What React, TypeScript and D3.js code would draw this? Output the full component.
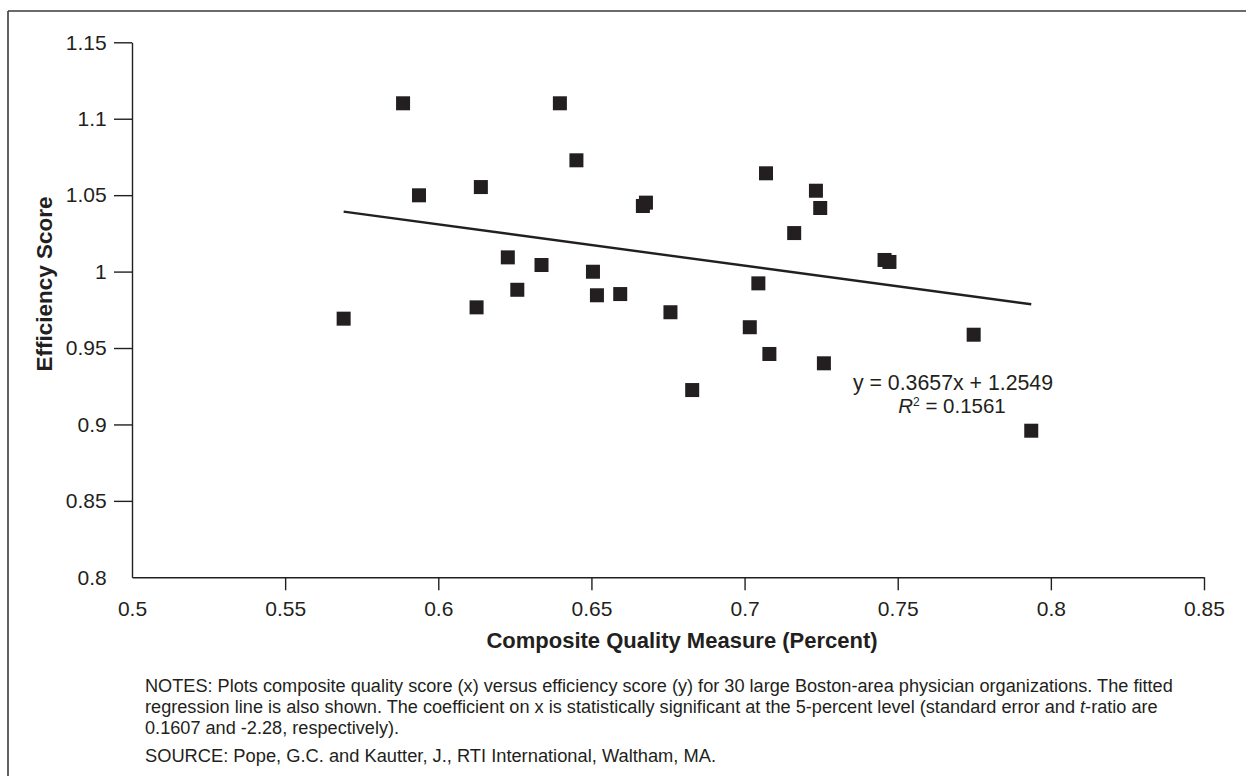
import React, { useEffect, useRef } from "react";
import * as d3 from "d3";

const qualityX = [
  0.5691, 0.5885, 0.5937, 0.6125, 0.6139, 0.6227, 0.6258, 0.6337, 0.6397, 0.6451,
  0.6505, 0.6518, 0.6594, 0.6668, 0.6678, 0.6758, 0.6829, 0.7017, 0.7045, 0.707,
  0.7081, 0.7162, 0.7233, 0.7247, 0.7259, 0.7457, 0.7473, 0.7748, 0.7936,
];
const efficiencyY = [
  0.9692, 1.1101, 1.0499, 0.9766, 1.0553, 1.0093, 0.9881, 1.0043, 1.1101, 1.0728,
  0.9999, 0.9845, 0.9853, 1.0429, 1.0451, 0.9734, 0.9225, 0.9636, 0.9923, 1.0643,
  0.9461, 1.0252, 1.0529, 1.0416, 0.94, 1.0076, 1.0063, 0.9587, 0.8959,
];
const fitX = [0.5691, 0.7936];
const fitY = [1.0392, 0.9786];
const xTicks = [0.5, 0.55, 0.6, 0.65, 0.7, 0.75, 0.8, 0.85];
const yTicks = [0.8, 0.85, 0.9, 0.95, 1, 1.05, 1.1, 1.15];
const xTitle = "Composite Quality Measure (Percent)";
const yTitle = "Efficiency Score";
const equationText = "y = 0.3657x + 1.2549";
const rSquaredText = "0.1561";
const notesLines = [
  "NOTES: Plots composite quality score (x) versus efficiency score (y) for 30 large Boston-area physician organizations. The fitted",
  "regression line is also shown. The coefficient on x is statistically significant at the 5-percent level (standard error and |t|-ratio are",
  "0.1607 and -2.28, respectively).",
];
const sourceText = "SOURCE: Pope, G.C. and Kautter, J., RTI International, Waltham, MA.";

const INK = "#231f20";
const FONT = "'Liberation Sans', Arial, Helvetica, sans-serif";

export default function App() {
  const ref = useRef<SVGSVGElement | null>(null);

  useEffect(() => {
    const svg = d3.select(ref.current);
    svg.selectAll("*").remove();

    const x = d3.scaleLinear().domain([0.5, 0.85]).range([132, 1204]);
    const y = d3.scaleLinear().domain([0.8, 1.15]).range([577.3, 42.3]);

    // frame
    svg.append("line").attr("x1", 8).attr("x2", 1246).attr("y1", 11).attr("y2", 11)
      .attr("stroke", "#3a3a3a").attr("stroke-width", 1.6);
    svg.append("line").attr("x1", 8).attr("x2", 8).attr("y1", 11).attr("y2", 776)
      .attr("stroke", "#3a3a3a").attr("stroke-width", 1.6);

    // x axis
    const gx = svg.append("g").attr("transform", `translate(0,${y(0.8)})`)
      .call(d3.axisBottom(x).tickValues(xTicks).tickSize(13).tickSizeOuter(0).tickPadding(10.3)
        .tickFormat((d) => d3.format("")(+d)));
    gx.select(".domain").attr("stroke", INK).attr("stroke-width", 1.4);
    gx.selectAll(".tick line").attr("stroke", INK).attr("stroke-width", 1.4);
    gx.selectAll(".tick").filter((d: any) => d === 0.5).select("line").remove();
    gx.selectAll(".tick text").attr("font-size", 21).attr("font-family", FONT).attr("fill", INK);

    // y axis
    const gy = svg.append("g").attr("transform", `translate(${x(0.5)},0)`)
      .call(d3.axisLeft(y).tickValues(yTicks).tickSize(18).tickSizeOuter(0).tickPadding(7.3)
        .tickFormat((d) => d3.format("")(+d)));
    gy.select(".domain").attr("stroke", INK).attr("stroke-width", 1.4);
    gy.selectAll(".tick line").attr("stroke", INK).attr("stroke-width", 1.4);
    gy.selectAll(".tick").filter((d: any) => d === 0.8).select("line").remove();
    gy.selectAll(".tick text").attr("font-size", 21).attr("font-family", FONT).attr("fill", INK);

    // axis titles
    svg.append("text").attr("x", 682).attr("y", 648).attr("text-anchor", "middle")
      .attr("font-size", 22).attr("font-weight", "bold").attr("font-family", FONT).attr("fill", INK)
      .text(xTitle);
    svg.append("text").attr("transform", `translate(52,284) rotate(-90)`).attr("text-anchor", "middle")
      .attr("font-size", 22.5).attr("font-weight", "bold").attr("font-family", FONT).attr("fill", INK)
      .text(yTitle);

    // regression line
    const lineGen = d3.line<number>().x((d, i) => x(fitX[i])).y((d, i) => y(fitY[i]));
    svg.append("path").datum(fitY).attr("d", lineGen as any).attr("fill", "none")
      .attr("stroke", INK).attr("stroke-width", 2.4);

    // points
    const s = 14;
    svg.append("g").selectAll("rect").data(qualityX).join("rect")
      .attr("x", (d) => x(d) - s / 2).attr("y", (d, i) => y(efficiencyY[i]) - s / 2)
      .attr("width", s).attr("height", s).attr("fill", INK);

    // equation
    svg.append("text").attr("x", 953).attr("y", 390).attr("text-anchor", "middle")
      .attr("font-size", 21.3).attr("font-family", FONT).attr("fill", INK).text(equationText);
    const r2 = svg.append("text").attr("x", 952).attr("y", 413).attr("text-anchor", "middle")
      .attr("font-size", 20.5).attr("font-family", FONT).attr("fill", INK);
    r2.append("tspan").attr("font-style", "italic").text("R");
    r2.append("tspan").attr("font-size", 12).attr("dy", -7).text("2");
    r2.append("tspan").attr("dy", 7).text(" = " + rSquaredText);

    // notes
    const baselines = [692, 713, 734];
    notesLines.forEach((ln, i) => {
      const t = svg.append("text").attr("x", 145).attr("y", baselines[i])
        .attr("font-size", 18.15).attr("font-family", FONT).attr("fill", INK);
      const parts = ln.split("|");
      parts.forEach((p, j) => {
        const sp = t.append("tspan").text(p);
        if (j % 2 === 1) sp.attr("font-style", "italic");
      });
    });
    svg.append("text").attr("x", 145).attr("y", 762)
      .attr("font-size", 18.3).attr("font-family", FONT).attr("fill", INK).text(sourceText);
  }, []);

  return (
    <svg ref={ref} width={1246} height={776}
      style={{ position: "absolute", left: 0, top: 0, background: "#fff" }} />
  );
}
